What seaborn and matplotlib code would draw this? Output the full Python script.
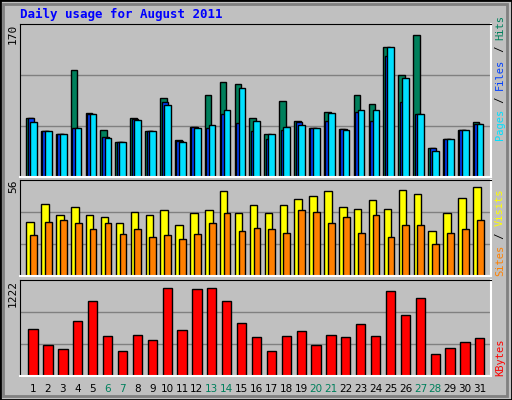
import numpy as np
import pandas as pd
import matplotlib.pyplot as plt
import seaborn as sns
from matplotlib.patches import Rectangle

days = np.arange(1, 32)
hits = [68, 53, 50, 123, 74, 54, 40, 68, 53, 91, 43, 58, 94, 109, 107, 68,
        50, 88, 65, 57, 75, 55, 94, 84, 150, 117, 164, 33, 44, 54, 63]
files = [68, 53, 50, 56, 72, 46, 40, 67, 53, 86, 42, 58, 57, 72, 62, 53,
         44, 54, 63, 57, 65, 55, 75, 64, 139, 86, 72, 33, 44, 54, 61]
pages = [63, 53, 50, 56, 72, 45, 40, 66, 53, 83, 40, 56, 60, 77, 102, 65,
         50, 58, 60, 56, 74, 54, 77, 77, 150, 114, 72, 30, 44, 54, 61]
sites = [32.6, 43, 36.7, 41.3, 36.7, 35.5, 32, 38.4, 36.7, 39.6, 30.8, 37.8,
         39.6, 51, 37.8, 42.5, 37.8, 42.5, 46, 48.3, 51, 41.3, 40, 45.4, 40,
         51.8, 49, 26.8, 37.8, 47, 53.6]
visits = [24.5, 32.6, 33.8, 32, 28, 32, 25, 28, 23.3, 24.5, 22, 25, 32, 37.8,
          26.8, 29, 28, 26, 39.6, 38.4, 32, 35.5, 26, 36.7, 23.3, 30.8, 30.8,
          19.2, 26, 28, 33.8]
kbytes = [619, 414, 363, 734, 991, 530, 337, 542, 478, 1170, 606, 1157, 1170,
          991, 696, 517, 337, 530, 593, 414, 542, 517, 683, 530, 1119, 811,
          1029, 286, 376, 453, 504]
weekends = [6, 7, 13, 14, 20, 21, 27, 28]

BG = '#C0C0C0'
W, H = 512, 400
fig = plt.figure(figsize=(5.12, 4), dpi=100, facecolor=BG)

# 3D outer border
fig.patches.append(Rectangle((0, 0), 1, 1, transform=fig.transFigure, fill=False, ec='black', lw=2))
fig.patches.append(Rectangle((3/W, 4/H), 1 - 8/W, 1 - 8/H, transform=fig.transFigure, fill=False, ec='#808080', lw=2))


def make_ax(top, bottom):
    ax = fig.add_axes([20/W, 1 - bottom/H, 471/W, (bottom - top)/H])
    ax.set_facecolor(BG)
    return ax


def bars(ax, vals, offset, color, width):
    df = pd.DataFrame({'x': days + offset, 'y': vals})
    sns.barplot(data=df, x='x', y='y', native_scale=True, width=width,
                color=color, saturation=1, edgecolor='black', linewidth=1, ax=ax)


def finish(ax, ymax, label):
    ax.set_xlim(0.12, 31.75)
    ax.set_ylim(0, ymax)
    for f in (1/3, 2/3):
        ax.axhline(ymax * f, color='#808080', lw=1, zorder=0)
    ax.set_xticks([])
    ax.set_yticks([])
    ax.set_xlabel('')
    ax.set_ylabel('')
    for s in ('top', 'left'):
        ax.spines[s].set_color('black')
    for s in ('bottom', 'right'):
        ax.spines[s].set_color('white')
        ax.spines[s].set_linewidth(1.5)
    pos = ax.get_position()
    fig.text(8/W, pos.y1, label, rotation=90, ha='left', va='top',
             family='DejaVu Sans Mono', fontsize=8)


ax1 = make_ax(24, 177)
bars(ax1, hits, -0.25, '#00805C', 0.45)
bars(ax1, files, -0.15, '#0040FF', 0.45)
bars(ax1, pages, 0.02, '#00E0FF', 0.45)
finish(ax1, 170 * 0.995 / 0.96, '170')

ax2 = make_ax(180, 276)
bars(ax2, sites, -0.2, '#FFFF00', 0.5)
bars(ax2, visits, 0.03, '#FF8000', 0.45)
finish(ax2, 56 * 1.03, '56')

ax3 = make_ax(280, 376)
bars(ax3, kbytes, 0.0, '#FF0000', 0.62)
finish(ax3, 1222 * 1.04, '1222')

# right-side legends (rotated, multi-coloured)
mono = dict(family='DejaVu Sans Mono', fontsize=7.5, rotation=90, ha='center', va='bottom')
CH = 7.5 * 0.602 * 100 / 72
def side(parts, x, y0):
    y = y0
    for txt, col in parts:
        fig.text(x / W, 1 - y / H, txt, color=col, **mono)
        y -= len(txt) * CH

side([('Pages', '#00E0FF'), (' / ', '#000000'), ('Files', '#0040FF'),
      (' / ', '#000000'), ('Hits', '#00805C')], 500, 140)
side([('Sites', '#FF8000'), (' / ', '#000000'), ('Visits', '#FFFF00')], 500, 276)
side([('KBytes', '#FF0000')], 500, 376)

# day labels
for d in days:
    col = '#00805C' if d in weekends else 'black'
    x = (33 + (d - 1) * 14.9) / W
    fig.text(x, 1 - 389/H, str(d), color=col, ha='center', va='center',
             family='DejaVu Sans', fontsize=7.5)

fig.text(20/W, 1 - 14/H, 'Daily usage for August 2011', color='#0000FF',
         family='DejaVu Sans Mono', fontweight='bold', fontsize=9, va='center')

fig.savefig('out.png', dpi=100, facecolor=BG)
